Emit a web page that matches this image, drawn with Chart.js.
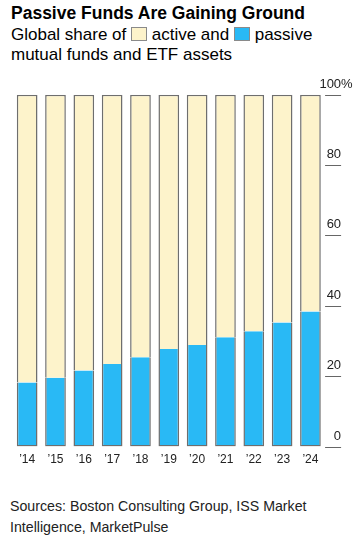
<!DOCTYPE html>
<html><head><meta charset="utf-8">
<script src="https://cdn.jsdelivr.net/npm/chart.js@4"></script>
<style>
body{margin:0;background:#fff;width:363px;height:541px;overflow:hidden;font-family:"Liberation Sans",Arial,sans-serif;color:#000}
#title{position:absolute;left:11px;top:3px;font-weight:bold;font-size:17.5px;line-height:21px;white-space:nowrap}
#sub{position:absolute;left:11px;top:25px;font-size:17px;line-height:20px;white-space:nowrap}
.sw{display:inline-block;width:14px;height:12px;border:1px solid #8a8a8a;vertical-align:-1px}
#src{position:absolute;left:10px;top:496px;font-size:14.2px;line-height:20.5px;color:#222}
#wrap{position:absolute;left:0;top:70px;width:363px;height:407px}
</style>
</head><body>
<div id="title">Passive Funds Are Gaining Ground</div>
<div id="sub">Global share of <span class="sw" style="background:#fdf3cb"></span> active and <span class="sw" style="background:#29b9f5"></span> passive<br>mutual funds and ETF assets</div>
<div id="wrap"><canvas id="c" width="363" height="407"></canvas></div>
<div id="src">Sources: Boston Consulting Group, ISS Market<br>Intelligence, MarketPulse</div>
<script>
const years = ["\u201914","\u201915","\u201916","\u201917","\u201918","\u201919","\u201920","\u201921","\u201922","\u201923","\u201924"];
const passive = [18.2, 19.6, 21.6, 23.5, 25.4, 27.7, 28.9, 31.1, 32.8, 35.3, 38.4];
const active  = [81.8, 80.4, 78.4, 76.5, 74.6, 72.3, 71.1, 68.9, 67.2, 64.7, 61.6];
const yTicks = [0, 20, 40, 60, 80, 100];

const tickPlugin = {
  id: 'rightTicks',
  afterDraw(chart) {
    const ctx = chart.ctx, ys = chart.scales.y, ca = chart.chartArea;
    const x0 = ca.right + 0.5, x1 = ca.right + 16.5;
    ctx.save();
    ctx.strokeStyle = '#666'; ctx.lineWidth = 1;
    ctx.fillStyle = '#222';
    ctx.font = '13px "Liberation Sans", Arial, sans-serif';
    ctx.textBaseline = 'middle';
    yTicks.forEach(v => {
      const py = Math.round(ys.getPixelForValue(v)) + 0.5;
      ctx.beginPath(); ctx.moveTo(x0, py); ctx.lineTo(x1, py); ctx.stroke();
      ctx.textAlign = 'right';
      ctx.fillText(String(v), x1, py - 11.5);
      if (v === 100) { ctx.textAlign = 'left'; ctx.fillText('%', x1, py - 11.5); }
    });
    ctx.restore();
  }
};

new Chart(document.getElementById('c'), {
  type: 'bar',
  data: {
    labels: years,
    datasets: [
      { label: 'Passive', data: passive, backgroundColor: '#29b9f5', borderColor: '#6e6e6e',
        borderWidth: {top: 0, left: 1.5, right: 1.5, bottom: 1.5}, borderSkipped: false },
      { label: 'Active', data: active, backgroundColor: '#fdf3cb', borderColor: '#6e6e6e',
        borderWidth: {top: 1.5, left: 1.5, right: 1.5, bottom: 0}, borderSkipped: false }
    ]
  },
  options: {
    responsive: false,
    animation: false,
    devicePixelRatio: 1,
    layout: { padding: { left: 13, right: 38.4, top: 24.7, bottom: 5 } },
    plugins: { legend: { display: false }, tooltip: { enabled: false } },
    datasets: { bar: { categoryPercentage: 1, barPercentage: 0.73 } },
    scales: {
      x: { stacked: true, grid: { display: false, drawTicks: false }, border: { display: false },
           ticks: { color: '#222', padding: 5.5, font: { size: 12, family: '"Liberation Sans", Arial, sans-serif' } } },
      y: { stacked: true, min: 0, max: 100, display: false }
    }
  },
  plugins: [tickPlugin]
});
</script>
</body></html>
